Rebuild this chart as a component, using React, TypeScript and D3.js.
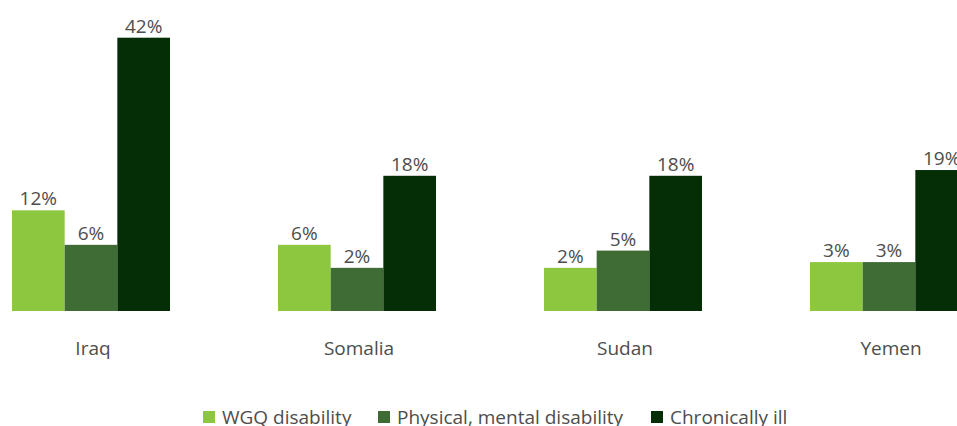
import React from "react";
import * as d3 from "d3";

const countries = ["Iraq", "Somalia", "Sudan", "Yemen"];
const seriesNames = ["WGQ disability", "Physical, mental disability", "Chronically ill"];
const colors = ["#8dc63f", "#3f6b35", "#052e07"];
const wgq = [12, 6, 2, 3];
const physical = [6, 2, 5, 3];
const chronic = [42, 18, 18, 19];
const seriesValues = [wgq, physical, chronic];

const W = 957;
const H = 426;
const baseline = 311;
const topY = 37.7;

export default function App() {
  const x0 = d3.scaleBand<string>().domain(countries).range([12, 968]).paddingInner(0.406).paddingOuter(0);
  const x1 = d3.scaleBand<number>().domain([0, 1, 2]).range([0, x0.bandwidth()]).padding(0);
  const y = d3.scaleLinear().domain([-5.5, 42]).range([baseline, topY]);

  const legendX = [203, 378, 651];
  const font = "'Open Sans', sans-serif";
  const textColor = "#4d4d4d";

  return (
    <svg width={W} height={H} style={{ position: "absolute", left: 0, top: 0, display: "block" }}>
      <rect width={W} height={H} fill="#ffffff" />
      {countries.map((c, ci) => (
        <g key={c} transform={`translate(${x0(c)},0)`}>
          {seriesValues.map((vals, si) => {
            const v = vals[ci];
            const bx = x1(si)!;
            const bw = x1.bandwidth();
            return (
              <g key={si}>
                <rect x={bx} y={y(v)} width={bw} height={baseline - y(v)} fill={colors[si]} />
                <text
                  x={bx + bw / 2}
                  y={y(v) - 5}
                  textAnchor="middle"
                  fontFamily={font}
                  fontSize={19}
                  fill={textColor}
                >
                  {`${v}%`}
                </text>
              </g>
            );
          })}
          <text
            x={x0.bandwidth() / 2 + 2}
            y={355}
            textAnchor="middle"
            fontFamily={font}
            fontSize={19}
            fill={textColor}
          >
            {c}
          </text>
        </g>
      ))}
      {seriesNames.map((s, i) => (
        <g key={s} transform={`translate(${legendX[i]},0)`}>
          <rect x={0} y={411} width={12} height={12} fill={colors[i]} />
          <text x={19} y={424} fontFamily={font} fontSize={19} fill={textColor}>
            {s}
          </text>
        </g>
      ))}
    </svg>
  );
}
